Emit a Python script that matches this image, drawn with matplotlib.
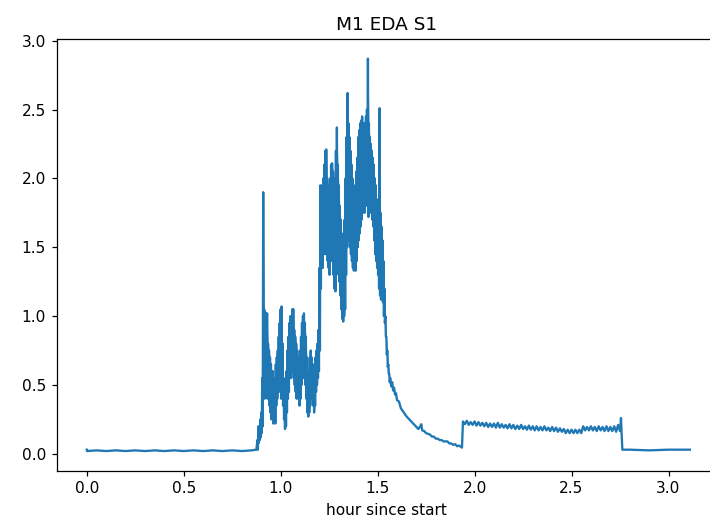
#!/usr/bin/env python3
import matplotlib
matplotlib.use("Agg")
import matplotlib.pyplot as plt

plt.rcParams["savefig.bbox"] = "standard"

# -------- DATA --------
# resting baseline before the session (hours, EDA)
rest_hours = [0.0, 0.002, 0.05, 0.10, 0.15, 0.20, 0.25, 0.30, 0.35, 0.40, 0.45,
              0.50, 0.55, 0.60, 0.65, 0.70, 0.75, 0.80, 0.85, 0.875]
rest_eda = [0.03, 0.02, 0.025, 0.02, 0.025, 0.02, 0.025, 0.02, 0.025, 0.02, 0.025,
            0.02, 0.025, 0.02, 0.025, 0.02, 0.025, 0.02, 0.025, 0.03]

# active burst: per-bin max / min EDA, one bin every BURST_STEP hours
BURST_START = 0.880
BURST_STEP = 0.005
burst_upper = [
    0.10, 0.20, 0.18, 0.25, 0.30, 0.55, 1.90, 1.05, 1.03, 0.95,
    1.02, 0.80, 0.75, 0.70, 0.65, 0.55, 0.60, 0.50, 0.55, 0.65,
    0.70, 0.75, 0.85, 0.95, 1.05, 1.07, 0.80, 0.55, 0.40, 0.50,
    0.60, 0.75, 0.85, 0.95, 1.00, 0.95, 1.05, 1.05, 0.90, 0.85,
    0.80, 0.75, 0.70, 0.70, 0.75, 0.85, 0.95, 1.00, 1.02, 0.95,
    0.85, 0.70, 0.55, 0.60, 0.70, 0.75, 0.70, 0.65, 0.60, 0.65,
    0.70, 0.75, 0.80, 0.90, 1.35, 1.95, 1.90, 1.95, 2.00, 2.10,
    2.20, 2.21, 2.00, 1.95, 1.90, 2.00, 2.10, 2.11, 2.05, 1.90,
    2.00, 2.20, 2.37, 2.10, 1.95, 1.80, 1.70, 1.60, 1.50, 1.55,
    1.70, 2.00, 2.30, 2.62, 2.40, 2.30, 2.20, 2.10, 2.00, 1.95,
    1.90, 1.95, 2.05, 2.15, 2.30, 2.35, 2.40, 2.42, 2.45, 2.40,
    2.35, 2.40, 2.45, 2.50, 2.87, 2.40, 2.30, 2.25, 2.20, 2.15,
    2.10, 2.00, 1.95, 1.85, 1.80, 1.70, 2.51, 1.75, 1.65, 1.55,
    1.40, 1.20, 1.00, 0.85, 0.75, 0.65, 0.58,
]
burst_lower = [
    0.03, 0.08, 0.10, 0.12, 0.15, 0.20, 0.45, 0.40, 0.50, 0.45,
    0.40, 0.45, 0.35, 0.30, 0.25, 0.28, 0.22, 0.23, 0.22, 0.35,
    0.40, 0.45, 0.50, 0.45, 0.40, 0.45, 0.35, 0.25, 0.18, 0.20,
    0.30, 0.40, 0.45, 0.55, 0.55, 0.60, 0.60, 0.55, 0.50, 0.45,
    0.40, 0.45, 0.40, 0.35, 0.40, 0.50, 0.55, 0.60, 0.55, 0.50,
    0.40, 0.30, 0.27, 0.30, 0.35, 0.40, 0.40, 0.35, 0.30, 0.35,
    0.45, 0.50, 0.55, 0.60, 0.75, 1.20, 1.40, 1.35, 1.45, 1.50,
    1.45, 1.55, 1.40, 1.35, 1.30, 1.40, 1.45, 1.40, 1.30, 1.20,
    1.18, 1.30, 1.40, 1.35, 1.25, 1.15, 1.05, 0.98, 0.96, 1.00,
    1.05, 1.30, 1.50, 1.60, 1.55, 1.50, 1.45, 1.40, 1.35, 1.33,
    1.35, 1.33, 1.40, 1.50, 1.55, 1.60, 1.65, 1.70, 1.75, 1.80,
    1.75, 1.80, 1.85, 1.80, 1.72, 1.75, 1.80, 1.75, 1.70, 1.65,
    1.55, 1.45, 1.40, 1.35, 1.30, 1.20, 1.15, 1.12, 1.15, 1.10,
    1.00, 0.95, 0.85, 0.72, 0.63, 0.58, 0.52,
]

# recovery after the burst
decay_hours = [1.565, 1.57, 1.575, 1.58, 1.585, 1.59, 1.595, 1.60, 1.61, 1.62,
               1.63, 1.64, 1.65, 1.66, 1.67, 1.68, 1.69, 1.70, 1.71, 1.72,
               1.725, 1.73, 1.74, 1.75, 1.76, 1.77, 1.78, 1.79, 1.80, 1.81,
               1.82, 1.83, 1.84, 1.85, 1.86, 1.87, 1.88, 1.89, 1.90, 1.91,
               1.92, 1.935]
decay_eda = [0.55, 0.49, 0.52, 0.46, 0.48, 0.43, 0.44, 0.39, 0.38, 0.33,
             0.31, 0.29, 0.27, 0.255, 0.24, 0.225, 0.21, 0.195, 0.18, 0.20,
             0.215, 0.17, 0.165, 0.15, 0.145, 0.14, 0.125, 0.125, 0.11, 0.11,
             0.10, 0.10, 0.09, 0.09, 0.09, 0.075, 0.075, 0.065, 0.07, 0.055,
             0.06, 0.045]

# second task block: per-bin max / min EDA, one bin every BLOCK_STEP hours
BLOCK_START = 1.940
BLOCK_STEP = 0.02
block_upper = [0.235, 0.24, 0.23, 0.235, 0.23, 0.225, 0.225, 0.22, 0.22, 0.225,
               0.215, 0.21, 0.215, 0.21, 0.205, 0.21, 0.20, 0.205, 0.20, 0.20,
               0.195, 0.20, 0.19, 0.195, 0.19, 0.185, 0.18, 0.175, 0.175, 0.175,
               0.175, 0.20, 0.195, 0.20, 0.195, 0.20, 0.195, 0.20, 0.195, 0.20,
               0.21]
block_lower = [0.215, 0.21, 0.21, 0.205, 0.205, 0.20, 0.195, 0.195, 0.19, 0.19,
               0.19, 0.185, 0.185, 0.18, 0.18, 0.18, 0.175, 0.175, 0.17, 0.17,
               0.17, 0.17, 0.165, 0.165, 0.16, 0.16, 0.15, 0.15, 0.15, 0.15,
               0.15, 0.17, 0.17, 0.17, 0.165, 0.17, 0.165, 0.165, 0.165, 0.16,
               0.165]

# end of block and final rest
end_hours = [2.755, 2.758, 2.762, 2.80, 2.90, 3.00, 3.11]
end_eda = [0.26, 0.15, 0.03, 0.03, 0.025, 0.03, 0.03]


def bin_hours(start, step, n):
    return [start + step * i for i in range(n)]


def min_max_trace(start, step, upper, lower):
    # draw each bin as max then min so the noisy band fills in
    hours, vals = [], []
    for t, hi, lo in zip(bin_hours(start, step, len(upper)), upper, lower):
        hours += [t, t + step / 2]
        vals += [hi, lo]
    return hours, vals


def build_series():
    burst_hours, burst_eda = min_max_trace(BURST_START, BURST_STEP, burst_upper, burst_lower)
    block_hours, block_eda = min_max_trace(BLOCK_START, BLOCK_STEP, block_upper, block_lower)
    hours = rest_hours + burst_hours + decay_hours + block_hours + end_hours
    eda = rest_eda + burst_eda + decay_eda + block_eda + end_eda
    return hours, eda


def main():
    hours, eda = build_series()

    dpi = 110.94
    fig = plt.figure(figsize=(710 / dpi, 531 / dpi), dpi=dpi)
    # right edge of the axes runs past the figure
    ax = fig.add_axes([0.0799, 0.1136, 0.96, 0.813])
    line, = ax.plot(hours, eda)
    # the burst samples are too dense to resolve: fill between bin min and max
    ax.fill_between(bin_hours(BURST_START, BURST_STEP, len(burst_upper)),
                    burst_lower, burst_upper, color=line.get_color(), lw=0)
    ax.set_xlim(-0.1547, 3.360)
    ax.spines["right"].set_visible(False)
    ax.set_title("M1 EDA S1", x=0.484)
    ax.set_xlabel("hour since start", x=0.484)

    fig.savefig("out.png", dpi=dpi)
    plt.close(fig)


if __name__ == "__main__":
    main()
